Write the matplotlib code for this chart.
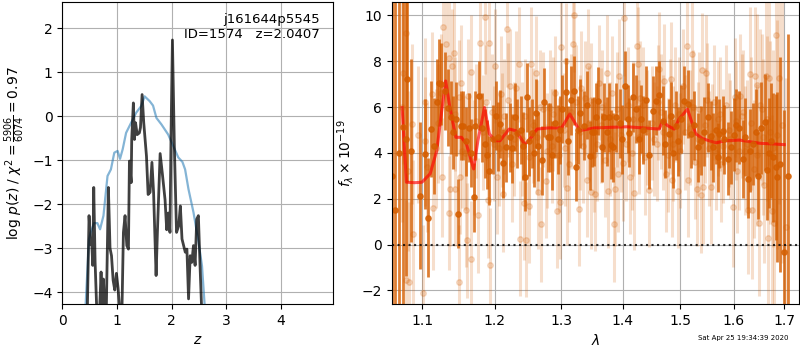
import matplotlib.pyplot as plt
import matplotlib.ticker as mticker

# --- p(z) panel ---
z_coarse = [0.426, 0.488, 0.519, 0.580, 0.642, 0.691, 0.753, 0.827, 0.889, 0.951,
            1.012, 1.056, 1.105, 1.167, 1.259, 1.352, 1.444, 1.506, 1.599, 1.660,
            1.722, 1.815, 1.938, 2.031, 2.123, 2.198, 2.247, 2.309, 2.401, 2.494,
            2.556, 2.605]
logp_coarse = [-4.30, -2.79, -2.64, -2.43, -2.43, -2.57, -2.26, -1.36, -1.21, -0.83,
               -0.79, -0.97, -0.75, -0.38, -0.15, 0.08, 0.23, 0.45, 0.34, 0.24,
               -0.04, -0.19, -0.42, -0.68, -0.94, -1.04, -1.21, -1.66, -2.19, -2.87,
               -3.40, -4.30]

z_fine = [0.458, 0.489, 0.520, 0.538, 0.557, 0.575, 0.600, 0.630, 0.680, 0.709,
          0.730, 0.752, 0.780, 0.805, 0.843, 0.873, 0.900, 0.930, 0.960, 0.990,
          1.020, 1.050, 1.090, 1.118, 1.148, 1.180, 1.210, 1.228, 1.260, 1.270,
          1.300, 1.320, 1.340, 1.370, 1.410, 1.430, 1.460, 1.490, 1.540, 1.570,
          1.606, 1.640, 1.670, 1.716, 1.740, 1.790, 1.830, 1.880, 1.910, 1.940,
          1.970, 1.990, 2.015, 2.050, 2.090, 2.130, 2.160, 2.190, 2.220, 2.250,
          2.280, 2.310, 2.340, 2.370, 2.400, 2.430, 2.460, 2.490, 2.520, 2.550]
logp_fine = [-4.40, -2.26, -2.91, -2.86, -3.39, -1.62, -3.32, -4.40, -4.50, -3.54,
             -4.40, -3.70, -4.50, -4.40, -1.62, -3.00, -3.17, -3.73, -3.95, -3.57,
             -3.90, -4.40, -4.50, -2.64, -2.26, -2.94, -3.02, -1.02, -1.51, -0.53,
             0.30, -0.53, -0.15, -0.42, -0.38, -0.26, 0.49, -0.15, -0.91, -1.78,
             -1.73, -1.05, -1.73, -3.62, -2.64, -0.85, -1.30, -1.90, -2.58, -2.20,
             -2.64, -0.38, 1.73, -0.68, -2.64, -2.49, -2.04, -2.79, -2.94, -3.09,
             -3.02, -4.15, -3.17, -3.32, -2.94, -3.39, -2.34, -2.26, -3.39, -4.40]

# --- spectrum panel: binned (dark) ---
bin_wave = [1.0612, 1.0645, 1.0700, 1.0751, 1.0781, 1.0804, 1.0847, 1.0972, 1.1034, 1.1076,
            1.1123, 1.1160, 1.1192, 1.1225, 1.1256, 1.1300, 1.1343, 1.1390, 1.1420, 1.1456,
            1.1478, 1.1523, 1.1550, 1.1590, 1.1636, 1.1670, 1.1705, 1.1726, 1.1771, 1.1826,
            1.1860, 1.1896, 1.1924, 1.1970, 1.2013, 1.2045, 1.2076, 1.2123, 1.2171, 1.2219,
            1.2255, 1.2292, 1.2330, 1.2389, 1.2420, 1.2448, 1.2477, 1.2510, 1.2547, 1.2580,
            1.2612, 1.2648, 1.2697, 1.2738, 1.2798, 1.2829, 1.2860, 1.2900, 1.2950, 1.2985,
            1.3018, 1.3069, 1.3111, 1.3147, 1.3200, 1.3240, 1.3270, 1.3303, 1.3357, 1.3409,
            1.3452, 1.3490, 1.3516, 1.3558, 1.3596, 1.3649, 1.3686, 1.3730, 1.3773, 1.3799,
            1.3838, 1.3892, 1.3947, 1.3990, 1.4029, 1.4086, 1.4113, 1.4170, 1.4226, 1.4270,
            1.4311, 1.4350, 1.4396, 1.4454, 1.4512, 1.4570, 1.4628, 1.4687, 1.4733, 1.4792,
            1.4830, 1.4863, 1.4922, 1.4960, 1.5012, 1.5072, 1.5133, 1.5193, 1.5254, 1.5316,
            1.5378, 1.5440, 1.5503, 1.5565, 1.5609, 1.5660, 1.5692, 1.5723, 1.5787, 1.5818,
            1.5883, 1.5947, 1.6000, 1.6044, 1.6108, 1.6175, 1.6225, 1.6272, 1.6320, 1.6371,
            1.6423, 1.6471, 1.6523, 1.6603, 1.6651, 1.6700, 1.6738, 1.6780, 1.6825, 1.6860,
            1.6920, 1.6990, 1.7081]
bin_flux = [3.00, 1.49, 4.00, 5.11, 4.61, 7.22, 4.10, 2.14, 3.96, 1.17,
            5.04, 4.30, 6.20, 7.07, 7.00, 6.70, 5.98, 5.55, 4.90, 5.48,
            1.35, 5.19, 5.19, 4.50, 5.10, 4.00, 2.07, 5.19, 6.49, 5.10,
            4.40, 3.93, 3.23, 4.60, 5.62, 4.70, 5.26, 3.55, 4.24, 4.68,
            4.20, 5.57, 4.86, 5.00, 4.30, 2.97, 6.42, 4.50, 4.86, 4.00,
            5.73, 4.29, 3.67, 6.20, 4.68, 4.68, 3.90, 5.29, 4.60, 5.00,
            5.91, 6.64, 4.53, 6.30, 6.71, 3.40, 5.00, 5.73, 5.19, 6.09,
            3.88, 4.90, 4.93, 5.55, 6.26, 4.24, 5.55, 4.93, 5.55, 4.35,
            4.24, 5.55, 5.29, 4.60, 6.93, 5.48, 4.88, 6.42, 5.91, 4.60,
            5.48, 5.00, 6.30, 3.93, 5.84, 6.28, 6.53, 5.40, 4.39, 4.83,
            5.60, 3.99, 5.19, 4.50, 5.48, 6.28, 6.13, 4.83, 5.20, 4.24,
            4.53, 4.93, 5.55, 4.75, 4.24, 5.00, 3.81, 4.83, 4.97, 4.60,
            3.75, 4.24, 4.80, 5.20, 5.10, 3.75, 4.68, 2.87, 4.10, 4.39,
            4.90, 3.00, 5.10, 5.36, 3.26, 4.00, 4.53, 3.80, 3.38, 2.94,
            3.50, -0.32, 3.00]
bin_err = [14.0, 14.0, 8.0, 9.0, 6.0, 4.5, 4.0, 3.2, 2.4, 2.6,
           2.1, 2.1, 1.9, 1.9, 1.8, 1.7, 1.7, 1.6, 1.6, 1.6,
           1.5, 1.5, 1.5, 1.5, 1.5, 1.5, 1.5, 1.5, 1.5, 1.5,
           1.5, 1.5, 1.5, 1.5, 1.5, 1.5, 1.5, 1.5, 1.5, 1.5,
           1.5, 1.5, 1.5, 1.5, 1.5, 1.5, 1.5, 1.5, 1.5, 1.5,
           1.5, 1.5, 1.5, 1.5, 1.5, 1.5, 1.5, 1.5, 1.5, 1.5,
           1.5, 1.5, 1.5, 1.5, 1.5, 1.5, 1.5, 1.5, 1.5, 1.5,
           1.5, 1.5, 1.5, 1.5, 1.5, 1.5, 1.5, 1.5, 1.5, 1.5,
           1.5, 1.5, 1.5, 1.5, 1.5, 1.5, 1.5, 1.5, 1.5, 1.5,
           1.5, 1.5, 1.5, 1.5, 1.5, 1.5, 1.5, 1.5, 1.5, 1.5,
           1.5, 1.5, 1.5, 1.5, 1.5, 1.5, 1.5, 1.5, 1.5, 1.5,
           1.5, 1.5, 1.5, 1.5, 1.5, 1.5, 1.5, 1.5, 1.5, 1.5,
           1.6, 1.6, 1.6, 1.6, 1.6, 1.7, 1.7, 1.7, 1.8, 1.8,
           1.9, 1.9, 2.0, 2.1, 2.2, 2.4, 2.5, 2.8, 3.2, 3.7,
           4.7, 6.2, 6.2]

# --- spectrum panel: unbinned (light) ---
raw_wave = [1.0730, 1.0751, 1.0781, 1.0786, 1.0809, 1.0823, 1.0865, 1.0874, 1.0940, 1.1005,
            1.1033, 1.1040, 1.1058, 1.1124, 1.1146, 1.1210, 1.1271, 1.1278, 1.1323, 1.1357,
            1.1365, 1.1376, 1.1398, 1.1434, 1.1443, 1.1491, 1.1500, 1.1510, 1.1523, 1.1580,
            1.1600, 1.1610, 1.1628, 1.1660, 1.1668, 1.1700, 1.1762, 1.1793, 1.1830, 1.1861,
            1.1906, 1.1916, 1.1929, 1.1960, 1.2008, 1.2036, 1.2060, 1.2092, 1.2116, 1.2140,
            1.2177, 1.2224, 1.2260, 1.2320, 1.2363, 1.2373, 1.2400, 1.2425, 1.2461, 1.2510,
            1.2534, 1.2570, 1.2607, 1.2649, 1.2680, 1.2695, 1.2761, 1.2780, 1.2826, 1.2880,
            1.2931, 1.2960, 1.2983, 1.2995, 1.3040, 1.3080, 1.3088, 1.3130, 1.3181, 1.3206,
            1.3240, 1.3276, 1.3311, 1.3350, 1.3412, 1.3423, 1.3468, 1.3480, 1.3542, 1.3580,
            1.3604, 1.3660, 1.3700, 1.3735, 1.3756, 1.3820, 1.3851, 1.3877, 1.3916, 1.3928,
            1.3970, 1.4001, 1.4019, 1.4080, 1.4126, 1.4150, 1.4197, 1.4239, 1.4256, 1.4300,
            1.4380, 1.4452, 1.4500, 1.4580, 1.4627, 1.4660, 1.4714, 1.4743, 1.4790, 1.4832,
            1.4862, 1.4900, 1.4953, 1.5000, 1.5050, 1.5116, 1.5146, 1.5180, 1.5215, 1.5270,
            1.5301, 1.5350, 1.5381, 1.5399, 1.5424, 1.5475, 1.5520, 1.5568, 1.5620, 1.5700,
            1.5760, 1.5850, 1.5920, 1.5983, 1.6014, 1.6060, 1.6112, 1.6150, 1.6210, 1.6272,
            1.6312, 1.6363, 1.6400, 1.6414, 1.6449, 1.6485, 1.6550, 1.6600, 1.6621, 1.6664,
            1.6691, 1.6710, 1.6747, 1.6791, 1.6831, 1.6888, 1.6950, 1.7034,
            # extra in-band samples
            1.1180, 1.1250, 1.1440, 1.1545, 1.1740, 1.1880, 1.1990, 1.2110, 1.2200, 1.2290,
            1.2440, 1.2500, 1.2630, 1.2720, 1.2850, 1.2910, 1.3060, 1.3160, 1.3290, 1.3380,
            1.3440, 1.3520, 1.3630, 1.3780, 1.3900, 1.4050, 1.4180, 1.4280, 1.4340, 1.4420,
            1.4540, 1.4600, 1.4690, 1.4810, 1.4880, 1.4980, 1.5080, 1.5240, 1.5320, 1.5450,
            1.5500, 1.5590, 1.5660, 1.5740, 1.5800, 1.5900, 1.6040, 1.6090, 1.6180, 1.6250,
            1.6330, 1.6460, 1.6520, 1.6580, 1.6650, 1.6770, 1.6860]
raw_flux = [6.00, 7.50, 9.24, -1.55, 3.20, -1.65, 5.26, 0.48, 4.80, -2.13,
            4.50, 6.20, 3.37, 6.59, 1.60, 5.30, 2.94, 9.49, 8.77, 8.16,
            1.38, 2.43, 7.80, 8.37, 2.43, -1.63, 6.42, 2.94, 7.07, 4.00,
            1.52, 0.19, 6.49, 7.53, -0.61, 3.80, 1.27, 8.81, 4.90, 9.93,
            1.93, 8.81, -0.90, 5.80, 7.80, 2.97, 4.20, 6.58, 2.19, 5.60,
            9.39, 6.90, 3.50, 6.81, 7.86, 0.26, 4.60, 1.81, 0.22, 1.68,
            7.86, 5.20, 7.49, 2.29, 6.00, 0.88, 2.78, 4.10, 5.98, 5.70,
            1.46, 3.90, 1.87, 8.62, 5.00, 8.03, 2.49, 3.50, 8.73, 10.01,
            6.20, 1.55, 6.81, 4.30, 2.81, 7.80, 2.29, 6.30, 2.20, 4.40,
            7.06, 6.00, 3.70, 7.50, 2.35, 6.60, 0.88, 2.42, 3.07, 7.36,
            4.80, 3.54, 9.87, 6.10, 2.94, 4.00, 2.25, 8.67, 7.86, 6.40,
            3.80, 2.39, 5.30, 4.40, 7.64, 5.80, 7.14, 3.07, 3.90, 7.21,
            2.82, 6.10, 2.33, 4.10, 6.90, 8.67, 2.82, 5.10, 8.33, 3.60,
            2.43, 5.90, 2.15, 7.60, 2.52, 7.50, 4.20, 2.52, 6.20, 5.50,
            3.50, 6.10, 4.60, 1.64, 6.42, 3.20, 6.49, 5.60, 4.10, 1.50,
            7.46, 1.50, 3.30, 7.36, 6.97, 0.96, 5.90, 2.60, 7.36, 0.30,
            7.26, 4.90, 1.45, 0.94, 9.14, 7.26, 5.20, 0.77,
            4.20, 6.60, 5.70, 4.10, 5.40, 6.20, 4.40, 5.00, 6.30, 4.60,
            5.60, 3.80, 4.70, 5.90, 4.30, 6.60, 4.20, 5.80, 4.90, 6.40,
            5.30, 3.90, 5.20, 4.60, 5.90, 4.40, 5.50, 4.70, 6.10, 5.10,
            4.60, 6.20, 4.90, 5.60, 4.40, 5.70, 4.90, 6.00, 4.60, 5.20,
            6.30, 4.50, 4.00, 5.70, 4.30, 5.00, 5.40, 4.10, 5.80, 4.40,
            5.30, 3.90, 6.10, 4.70, 5.50, 4.20, 4.80]
raw_err = [5.0, 4.0, 4.0, 3.5, 3.5, 3.5, 3.5, 3.2, 3.0, 3.0,
           2.8, 2.8, 2.8, 2.7, 2.7, 2.6, 2.6, 2.6, 2.6, 2.5,
           2.5, 2.5, 2.5, 2.5, 2.5, 2.5, 2.5, 2.5, 2.5, 2.5,
           2.5, 2.5, 2.5, 2.5, 2.5, 2.5, 2.5, 2.5, 2.5, 2.5,
           2.5, 2.5, 2.5, 2.5, 2.5, 2.5, 2.5, 2.5, 2.5, 2.5,
           2.5, 2.5, 2.5, 2.5, 2.5, 2.5, 2.5, 2.5, 2.5, 2.5,
           2.5, 2.5, 2.5, 2.5, 2.5, 2.5, 2.5, 2.5, 2.5, 2.5,
           2.5, 2.5, 2.5, 2.5, 2.5, 2.5, 2.5, 2.5, 2.5, 2.5,
           2.5, 2.5, 2.5, 2.5, 2.5, 2.5, 2.5, 2.5, 2.5, 2.5,
           2.5, 2.5, 2.5, 2.5, 2.5, 2.5, 2.5, 2.5, 2.5, 2.5,
           2.5, 2.5, 2.5, 2.5, 2.5, 2.5, 2.5, 2.5, 2.5, 2.5,
           2.5, 2.5, 2.5, 2.5, 2.5, 2.5, 2.5, 2.5, 2.5, 2.5,
           2.5, 2.5, 2.5, 2.5, 2.5, 2.5, 2.5, 2.5, 2.5, 2.5,
           2.5, 2.5, 2.5, 2.5, 2.5, 2.5, 2.5, 2.5, 2.5, 2.5,
           2.5, 2.6, 2.6, 2.6, 2.6, 2.7, 2.7, 2.7, 2.8, 2.8,
           2.9, 3.0, 3.0, 3.0, 3.1, 3.2, 3.3, 3.4, 3.5, 3.6,
           3.8, 4.0, 4.2, 4.5, 5.0, 5.5, 6.0, 6.5,
           2.6, 2.6, 2.5, 2.5, 2.5, 2.5, 2.5, 2.5, 2.5, 2.5,
           2.5, 2.5, 2.5, 2.5, 2.5, 2.5, 2.5, 2.5, 2.5, 2.5,
           2.5, 2.5, 2.5, 2.5, 2.5, 2.5, 2.5, 2.5, 2.5, 2.5,
           2.5, 2.5, 2.5, 2.5, 2.5, 2.5, 2.5, 2.5, 2.5, 2.5,
           2.5, 2.5, 2.5, 2.5, 2.5, 2.5, 2.6, 2.6, 2.7, 2.8,
           2.9, 3.1, 3.3, 3.4, 3.6, 4.3, 5.0]

# --- best-fit model ---
model_wave = [1.0737, 1.0792, 1.0900, 1.0996, 1.1105, 1.1194, 1.1261, 1.1314, 1.1372, 1.1454,
              1.1531, 1.1600, 1.1701, 1.1761, 1.1855, 1.1925, 1.2006, 1.2078, 1.2212, 1.2309,
              1.2441, 1.2504, 1.2628, 1.2804, 1.3007, 1.3136, 1.3214, 1.3292, 1.3528, 1.4066,
              1.4628, 1.4687, 1.4774, 1.4891, 1.4981, 1.5132, 1.5284, 1.5409, 1.5659, 1.5850,
              1.6108, 1.6505, 1.6776, 1.7000]
model_flux = [5.98, 2.72, 2.70, 2.72, 3.09, 4.10, 5.84, 7.14, 5.98, 4.68,
              4.68, 4.39, 3.30, 4.53, 5.98, 4.83, 4.53, 4.53, 5.04, 4.97,
              4.39, 4.53, 5.04, 5.09, 5.09, 5.70, 5.33, 4.97, 5.09, 5.14,
              5.04, 5.40, 5.19, 5.04, 5.48, 5.91, 4.83, 4.62, 4.44, 4.53,
              4.56, 4.42, 4.39, 4.36]

g141 = (0.835, 0.369, 0.0)

fig = plt.figure(figsize=(8, 3.5), dpi=100)
ax1 = fig.add_axes([0.0779, 0.131, 0.3388, 0.863])
ax2 = fig.add_axes([0.4896, 0.131, 0.5095, 0.863])

ax1.plot(z_coarse, logp_coarse, color="#1f77b4", alpha=0.55, lw=1.6)
ax1.plot(z_fine, logp_fine, color="k", alpha=0.75, lw=2)
ax1.set_xlim(0, 4.96)
ax1.set_ylim(-4.27, 2.59)
ax1.set_xticks([0, 1, 2, 3, 4])
ax1.set_yticks([-4, -3, -2, -1, 0, 1, 2])
ax1.grid(True)
ax1.set_xlabel("$z$")
ax1.set_ylabel(r"log $p(z)$ / $\chi^2=\frac{5906}{6074}=0.97$")
ax1.text(0.95, 0.965, "j161644p5545\nID=1574   z=2.0407",
         ha="right", va="top", transform=ax1.transAxes, fontsize=9.5)

ax2.errorbar(raw_wave, raw_flux, raw_err, color=g141, alpha=0.2, marker="o",
             ms=4, linestyle="None", lw=2.2)
ax2.errorbar(bin_wave, bin_flux, bin_err, color=g141, alpha=0.8, marker="o",
             ms=3.8, linestyle="None", lw=2)
ax2.plot(model_wave, model_flux, color="r", alpha=0.65, lw=2.2)
ax2.axhline(0, color="k", linestyle=":", lw=1.5, alpha=0.8)
ax2.set_xscale("log")
ax2.set_xlim(1.0603, 1.731)
ax2.set_ylim(-2.6, 10.58)
ax2.xaxis.set_major_locator(mticker.FixedLocator([1.1, 1.2, 1.3, 1.4, 1.5, 1.6, 1.7]))
ax2.xaxis.set_major_formatter(mticker.FormatStrFormatter("%.1f"))
ax2.xaxis.set_minor_locator(mticker.NullLocator())
ax2.set_yticks([-2, 0, 2, 4, 6, 8, 10])
ax2.grid(True)
ax2.set_xlabel(r"$\lambda$")
ax2.set_ylabel(r"$f_\lambda\times 10^{-19}$")

fig.text(0.985, 0.025, "Sat Apr 25 19:34:39 2020", ha="right", va="bottom", fontsize=5)

fig.savefig("out.png", dpi=100)
